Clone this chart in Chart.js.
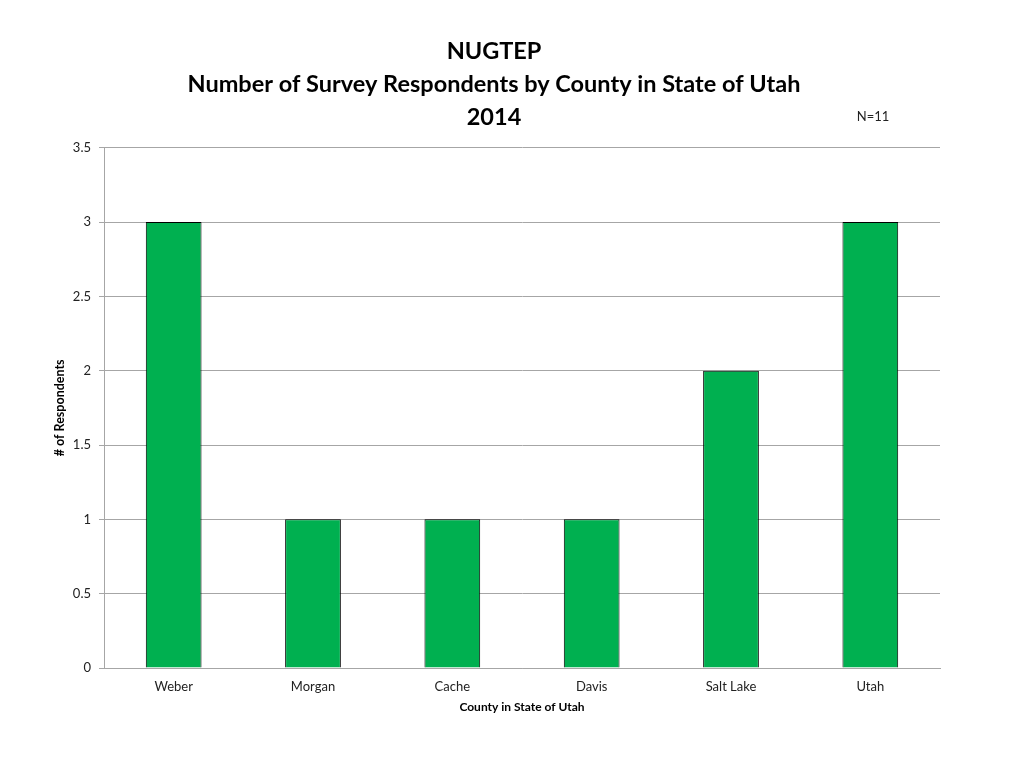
<!DOCTYPE html>
<html>
<head>
<meta charset="utf-8">
<script src="https://cdn.jsdelivr.net/npm/chart.js@4.4.1/dist/chart.umd.min.js"></script>
<style>
    html, body { margin: 0; padding: 0; background: #fff; }
    #wrap { width: 1024px; height: 768px; position: relative; }
</style>
</head>
<body>
<div id="wrap"><canvas id="countyChart"></canvas></div>
<script>
// Chart data
const counties = ['Weber', 'Morgan', 'Cache', 'Davis', 'Salt Lake', 'Utah'];
const respondents = [3, 1, 1, 1, 2, 3];
const titleLines = ['NUGTEP', 'Number of Survey Respondents by County in State of Utah', '2014'];
const sampleNote = 'N=11';

const fontFamily = "Lato, 'Open Sans', sans-serif";

// Small "N=11" note beside the year line
const notePlugin = {
    id: 'sampleNote',
    afterDraw(chart) {
        const ctx = chart.ctx;
        ctx.save();
        ctx.font = '13px ' + fontFamily;
        ctx.fillStyle = '#222';
        ctx.textAlign = 'center';
        ctx.textBaseline = 'middle';
        ctx.fillText(sampleNote, 873, 117);
        ctx.restore();
    }
};

const ctx = document.getElementById('countyChart').getContext('2d');
new Chart(ctx, {
    type: 'bar',
    data: {
        labels: counties,
        datasets: [{
            label: 'Respondents',
            data: respondents,
            backgroundColor: '#00B050',
            borderColor: '#000',
            borderWidth: 1,
            barPercentage: 0.4,
            categoryPercentage: 1
        }]
    },
    options: {
        responsive: true,
        maintainAspectRatio: false,
        animation: false,
        layout: {
            padding: { left: 48, right: 84, top: 35, bottom: 50 }
        },
        plugins: {
            legend: { display: false },
            tooltip: { enabled: false },
            title: {
                display: true,
                text: titleLines,
                color: '#000',
                font: { family: fontFamily, size: 23.5, weight: 'bold', lineHeight: 1.4 },
                padding: { top: 0, bottom: 14 }
            }
        },
        scales: {
            x: {
                grid: { display: false },
                border: { color: '#a6a6a6' },
                ticks: { color: '#222', font: { family: fontFamily, size: 13 }, padding: 3 },
                title: {
                    display: true,
                    text: 'County in State of Utah',
                    color: '#000',
                    font: { family: fontFamily, size: 12, weight: 'bold' },
                    padding: { top: 4 }
                },
                afterFit(scale) { scale.height = 50; }
            },
            y: {
                min: 0,
                max: 3.5,
                ticks: {
                    stepSize: 0.5,
                    color: '#222',
                    font: { family: fontFamily, size: 13 },
                    padding: 8,
                    callback: (value) => String(value)
                },
                grid: { color: '#a6a6a6', tickLength: 5 },
                border: { color: '#a6a6a6' },
                title: {
                    display: true,
                    text: '# of Respondents',
                    color: '#000',
                    font: { family: fontFamily, size: 12.5, weight: 'bold' }
                },
                afterFit(scale) { scale.width = 56; }
            }
        }
    },
    plugins: [notePlugin]
});
</script>
</body>
</html>
